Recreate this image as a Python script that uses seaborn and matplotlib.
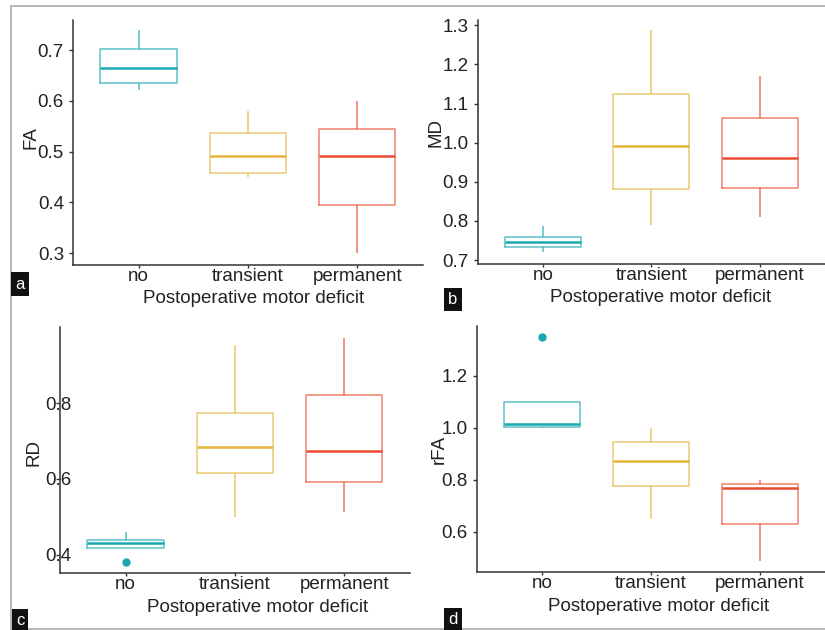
import pandas as pd
import matplotlib.pyplot as plt
import seaborn as sns
from matplotlib.lines import Line2D

# Groups and colours
groups = ["no", "transient", "permanent"]
colors = ["#19A8B3", "#E5B43A", "#EA4A30"]

# Five-number summaries (low, q1, median, q3, high / outlier)
fa_no = [0.621, 0.635, 0.665, 0.703, 0.739]
fa_transient = [0.450, 0.457, 0.491, 0.536, 0.580]
fa_permanent = [0.300, 0.394, 0.491, 0.545, 0.599]

md_no = [0.721, 0.734, 0.745, 0.760, 0.788]
md_transient = [0.789, 0.881, 0.991, 1.124, 1.289]
md_permanent = [0.811, 0.885, 0.960, 1.064, 1.170]

rd_no = [0.380, 0.419, 0.430, 0.440, 0.461]
rd_transient = [0.500, 0.615, 0.684, 0.774, 0.954]
rd_permanent = [0.514, 0.591, 0.673, 0.822, 0.973]

rfa_no = [1.000, 1.005, 1.015, 1.100, 1.350]
rfa_transient = [0.650, 0.777, 0.873, 0.946, 1.000]
rfa_permanent = [0.490, 0.630, 0.770, 0.785, 0.800]

# Axis ticks
fa_ticks = [0.3, 0.4, 0.5, 0.6, 0.7]
md_ticks = [0.7, 0.8, 0.9, 1.0, 1.1, 1.2, 1.3]
rd_ticks = [0.4, 0.6, 0.8]
rfa_ticks = [0.6, 0.8, 1.0, 1.2]


def make_df(no, transient, permanent):
    rows = []
    for g, vals in zip(groups, [no, transient, permanent]):
        for v in vals:
            rows.append({"group": g, "value": v})
    return pd.DataFrame(rows)


sns.set_style("ticks")
plt.rcParams["font.family"] = ["Liberation Sans", "DejaVu Sans"]
plt.rcParams["text.color"] = "#222222"
plt.rcParams["axes.labelcolor"] = "#222222"
plt.rcParams["xtick.color"] = "#333333"
plt.rcParams["ytick.color"] = "#333333"
plt.rcParams["xtick.labelcolor"] = "#222222"
plt.rcParams["ytick.labelcolor"] = "#222222"

fig = plt.figure(figsize=(8.25, 6.3), dpi=100)

panels = [
    # data, ylabel, ticks, ylim, axes rect, ylabel coords, xlabel coords, letter pos
    (make_df(fa_no, fa_transient, fa_permanent), "FA", fa_ticks, (0.276, 0.759),
     [0.0885, 0.579, 0.424, 0.389], (-0.097, 0.52), (0.517, -0.100), (0.0242, 0.549), "a"),
    (make_df(md_no, md_transient, md_permanent), "MD", md_ticks, (0.69, 1.313),
     [0.579, 0.581, 0.421, 0.387], (-0.095, 0.54), (0.527, -0.104), (0.549, 0.525), "b"),
    (make_df(rd_no, rd_transient, rd_permanent), "RD", rd_ticks, (0.352, 1.0),
     [0.0727, 0.0905, 0.424, 0.390], (-0.049, 0.49), (0.564, -0.106), (0.0242, 0.0143), "c"),
    (make_df(rfa_no, rfa_transient, rfa_permanent), "rFA", rfa_ticks, (0.446, 1.39),
     [0.578, 0.092, 0.422, 0.390], (-0.083, 0.50), (0.523, -0.104), (0.549, 0.0159), "d"),
]

for df, ylab, ticks, ylim, rect, ylc, xlc, lpos, letter in panels:
    ax = fig.add_axes(rect)
    sns.boxplot(data=df, x="group", y="value", hue="group", order=groups,
                hue_order=groups, palette=colors, fill=False, width=0.7,
                linewidth=1.1, legend=False, showcaps=False,
                boxprops=dict(alpha=0.7), whiskerprops=dict(alpha=0.75),
                medianprops=dict(linewidth=1.8),
                flierprops=dict(marker="o", markersize=5,
                                markerfacecolor=colors[0], markeredgecolor=colors[0]),
                ax=ax)
    ax.set_xlim(-0.6, 2.6)
    ax.set_ylim(*ylim)
    ax.set_yticks(ticks)
    ax.set_yticklabels([f"{t:.1f}" for t in ticks])
    ax.set_xlabel("Postoperative motor deficit", fontsize=13.5)
    ax.set_ylabel(ylab, fontsize=13.5)
    ax.yaxis.set_label_coords(*ylc)
    ax.xaxis.set_label_coords(*xlc)
    ax.tick_params(labelsize=13.5, length=3, width=1)
    ax.tick_params(axis="x", length=2, pad=0)
    if letter == "c":
        ax.tick_params(axis="y", pad=-11)
    sns.despine(ax=ax)
    for s in ["left", "bottom"]:
        ax.spines[s].set_linewidth(1.1)
        ax.spines[s].set_color("#333333")
    fig.text(lpos[0], lpos[1], letter, color="white", fontsize=12,
             ha="center", va="center",
             bbox=dict(boxstyle="square,pad=0.25", fc="#111111", ec="none"))

# grey frame round the figure
frame = dict(color="#aaaaaa", linewidth=1.2)
fig.add_artist(Line2D([0.0133, 0.0133], [0.002, 0.990], transform=fig.transFigure, **frame))
fig.add_artist(Line2D([0.0133, 1.0], [0.990, 0.990], transform=fig.transFigure, **frame))
fig.add_artist(Line2D([0.0133, 1.0], [0.002, 0.002], transform=fig.transFigure, **frame))

fig.savefig("out.png", dpi=100)
